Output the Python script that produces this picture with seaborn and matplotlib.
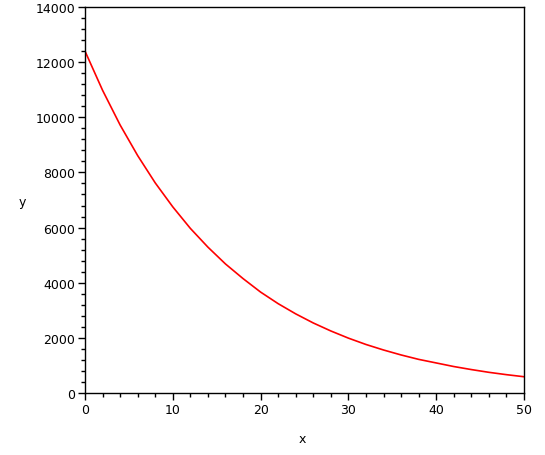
import matplotlib
matplotlib.use("Agg")
import matplotlib.pyplot as plt
import seaborn as sns
import pandas as pd
from matplotlib.ticker import MultipleLocator

x_vals = [0, 2, 4, 6, 8, 10, 12, 14, 16, 18, 20, 22, 24, 26, 28, 30,
          32, 34, 36, 38, 40, 42, 44, 46, 48, 50]
y_vals = [12400, 10980, 9720, 8610, 7620, 6750, 5970, 5290, 4680, 4150,
          3660, 3240, 2870, 2540, 2250, 1990, 1760, 1560, 1380, 1220,
          1090, 960, 850, 750, 665, 590]

sns.set_style("white")
plt.rcParams['font.family'] = ['DejaVu Sans']
plt.rcParams['text.color'] = 'black'
plt.rcParams['xtick.color'] = 'black'
plt.rcParams['ytick.color'] = 'black'
plt.rcParams['axes.labelcolor'] = 'black'

df = pd.DataFrame({"x": x_vals, "y": y_vals})

fig = plt.figure(figsize=(5.45, 4.56), dpi=100)
ax = fig.add_axes([85/545, 62/456, (524-85)/545, (394-8)/456])
sns.lineplot(data=df, x="x", y="y", ax=ax, color="#ff0000", linewidth=1.2)

ax.set_xlim(0, 50)
ax.set_ylim(0, 14000)
ax.xaxis.set_major_locator(MultipleLocator(10))
ax.xaxis.set_minor_locator(MultipleLocator(2))
ax.yaxis.set_major_locator(MultipleLocator(2000))
ax.yaxis.set_minor_locator(MultipleLocator(400))
ax.tick_params(which="major", direction="out", length=5, width=1, color="black",
               labelcolor="black", labelsize=9, bottom=True, left=True,
               top=False, right=False, pad=2)
ax.tick_params(which="minor", direction="out", length=3, width=1, color="black",
               bottom=True, left=True, top=False, right=False)
for s in ax.spines.values():
    s.set_color("black")
    s.set_linewidth(1)

ax.set_xlabel("x", fontsize=9)
ax.set_ylabel("y", fontsize=9, rotation=0)
ax.yaxis.set_label_coords(-63/439, (394-203)/386)
ax.xaxis.set_label_coords((302-85)/439, -(440-394)/386)
ax.xaxis.label.set_va("center")
ax.yaxis.label.set_va("center")
ax.yaxis.label.set_ha("center")

fig.savefig("out.png", dpi=100)
